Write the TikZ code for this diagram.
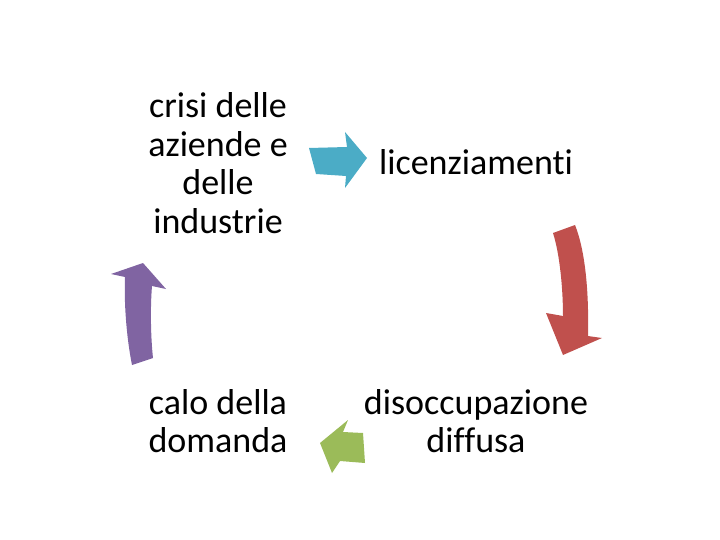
\documentclass[tikz,border=0pt]{standalone}
\usepackage{fontspec}
\setmainfont[Ligatures=NoCommon]{Carlito}
\usepackage{tikz}

\definecolor{arrblue}{HTML}{4BACC6}
\definecolor{arrred}{HTML}{C0504D}
\definecolor{arrgreen}{HTML}{9BBB59}
\definecolor{arrpurple}{HTML}{8064A2}

\tikzset{
  cyclebox/.style={align=center,font=\fontsize{36}{38.5}\selectfont,inner sep=0pt}
}

\begin{document}
\begin{tikzpicture}[x=1pt,y=-1pt]
    \useasboundingbox (0,0) rectangle (720,540);
    % Texts of the cycle
    \node[cyclebox] (crisi) at (218,163) {crisi delle\\aziende e\\delle\\industrie};
    \node[cyclebox] (lic) at (476,162) {licenziamenti};
    \node[cyclebox] (dis) at (476,421) {disoccupazione\\diffusa};
    \node[cyclebox] (calo) at (218,421) {calo della\\domanda};
    % Block arrows
    \fill[arrblue] (309,148) -- (347,147) -- (345,132) -- (367,158)
        -- (345,188) -- (346,176) -- (316,174) -- cycle;
    \fill[arrred] (553,233) .. controls (560,255) and (563,290) .. (563,316)
        -- (546,313) -- (563,355) -- (602,338) -- (588,336)
        .. controls (589,290) and (585,250) .. (575,225) -- cycle;
    \fill[arrgreen] (363,433) -- (343,432) -- (348,420) -- (320,443)
        -- (332,473) -- (340,461) -- (365,463) -- cycle;
    \fill[arrpurple] (132,365) .. controls (126,335) and (124,300) .. (125,277)
        -- (111,274) -- (143,263) -- (166,289) -- (152,286)
        .. controls (150,310) and (151,340) .. (153,358) -- cycle;
\end{tikzpicture}
\end{document}
